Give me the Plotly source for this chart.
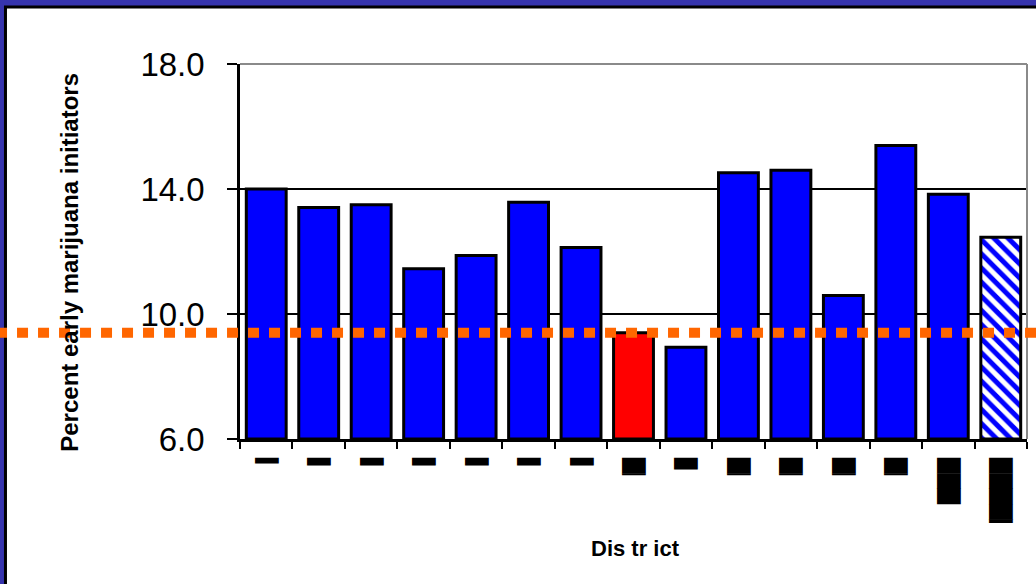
import plotly.graph_objects as go

# Districts (labels in the source slide are illegible, shown as black blobs)
districts = [f"D{i}" for i in range(1, 15)] + ["State"]
tick_labels = ["▍", "▌", "▌", "▌", "▌", "▌", "▌", "█▏", "▊", "█▏", "█▏", "█▏", "█▏", "███", "████▎"]
pct_early = [14.0, 13.41, 13.5, 11.45, 11.87, 13.58, 12.13, 9.4, 8.94, 14.52, 14.6, 10.59, 15.39, 13.83, 12.46]
state_avg = 9.4
y_floor = 6.0

_BLUE = "#0000FF"
_RED = "#FF0000"

colors = [_BLUE] * (len(pct_early) - 1)
colors[7] = _RED

fig = go.Figure()
# district bars
fig.add_trace(
    go.Bar(
        x=districts[:-1],
        y=[v - y_floor for v in pct_early[:-1]],
        base=y_floor,
        marker={"color": colors, "line": {"color": "#000000", "width": 3}},
        showlegend=False,
    )
)
# state bar (hatched)
fig.add_trace(
    go.Bar(
        x=districts[-1:],
        y=[v - y_floor for v in pct_early[-1:]],
        base=y_floor,
        marker={
            "color": "#FFFFFF",
            "line": {"color": "#000000", "width": 3},
            "pattern": {
                "shape": "\\",
                "fillmode": "overlay",
                "fgcolor": _BLUE,
                "fgopacity": 1,
                "size": 10,
                "solidity": 0.5,
            },
        },
        showlegend=False,
    )
)

fig.update_layout(
    width=1036,
    height=584,
    margin={"l": 240, "r": 9, "t": 64, "b": 145},
    paper_bgcolor="#3634ad",
    plot_bgcolor="#FFFFFF",
    barmode="overlay",
    bargap=0.24,
    font={"family": "Liberation Sans, Arial, sans-serif", "color": "#000000"},
    xaxis={
        "type": "category",
        "categoryorder": "array",
        "categoryarray": districts,
        "tickmode": "array",
        "tickvals": districts,
        "ticktext": tick_labels,
        "tickangle": 90,
        "tickfont": {"family": "DejaVu Sans", "size": 20, "color": "#000000"},
        "ticks": "outside",
        "tickson": "boundaries",
        "ticklen": 7,
        "tickwidth": 2,
        "tickcolor": "#000000",
        "showline": True,
        "linecolor": "#000000",
        "linewidth": 2.5,
        "showgrid": False,
        "automargin": False,
        "ticklabelstandoff": 12,
    },
    yaxis={
        "range": [6, 18],
        "tickvals": [6, 10, 14, 18],
        "tickformat": ".1f",
        "tickfont": {"size": 33},
        "ticks": "outside",
        "ticklen": 10,
        "tickwidth": 2,
        "tickcolor": "#000000",
        "showline": True,
        "linecolor": "#000000",
        "linewidth": 2.5,
        "gridcolor": "#000000",
        "gridwidth": 2,
        "zeroline": False,
        "automargin": False,
        "ticklabelstandoff": 16,
    },
    shapes=[
        # white slide panel
        {
            "type": "rect", "xref": "paper", "yref": "paper",
            "x0": -0.298, "x1": 1.05, "y0": -0.45, "y1": 1.152,
            "fillcolor": "#FFFFFF", "line": {"color": "#000000", "width": 3},
            "layer": "below",
        },
        # grey frame on top and right
        {
            "type": "line", "xref": "paper", "yref": "paper",
            "x0": 0, "x1": 1, "y0": 1, "y1": 1,
            "line": {"color": "#8a8a8a", "width": 2},
        },
        {
            "type": "line", "xref": "paper", "yref": "paper",
            "x0": 1, "x1": 1, "y0": 0, "y1": 1,
            "line": {"color": "#8a8a8a", "width": 2},
        },
        # state average
        {
            "type": "line", "xref": "paper", "yref": "y",
            "x0": -0.31, "x1": 1.02, "y0": state_avg, "y1": state_avg,
            "line": {"color": "#FF6600", "width": 10, "dash": "11px,10px"},
            "layer": "above",
        },
    ],
    annotations=[
        {
            "text": "<b>Percent early marijuana initiators</b>",
            "xref": "paper", "yref": "paper", "x": -0.216, "y": 0.47,
            "xanchor": "center", "yanchor": "middle",
            "textangle": -90, "showarrow": False,
            "font": {"size": 24, "color": "#000000"},
        },
        {
            "text": "<b>Dis tr ict</b>",
            "xref": "paper", "yref": "paper", "x": 0.503, "y": -0.293,
            "xanchor": "center", "yanchor": "middle",
            "showarrow": False,
            "font": {"size": 22, "color": "#000000"},
        },
    ],
)

# page margin off so the slide fills the window
fig.write_html(
    "out.html",
    config={"displayModeBar": False},
    post_script="document.body.style.margin = '0';",
)
